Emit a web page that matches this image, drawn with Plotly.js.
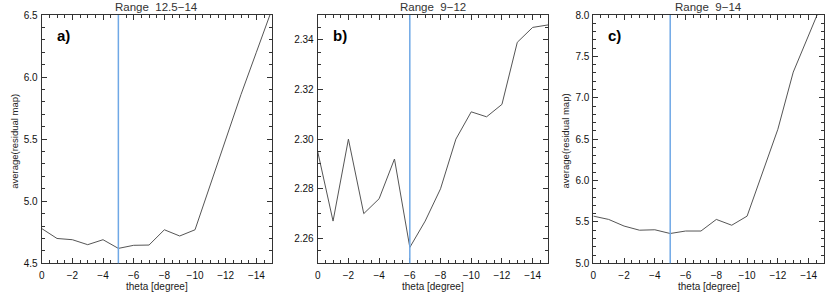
<!DOCTYPE html>
<html><head><meta charset="utf-8">
<script src="https://cdn.plot.ly/plotly-3.0.1.min.js"></script>
<style>html,body{margin:0;padding:0;background:#fff}#chart{width:830px;height:293px}</style>
</head><body><div id="chart"></div>
<script>
// ---- data ----
const theta = [0,-1,-2,-3,-4,-5,-6,-7,-8,-9,-10,-11,-12,-13,-14,-15];
const seriesA = [4.78,4.70,4.69,4.65,4.69,4.62,4.645,4.647,4.77,4.72,4.77,5.13,5.49,5.86,6.20,6.54];
const seriesB = [2.295,2.267,2.300,2.270,2.276,2.292,2.2564,2.267,2.280,2.300,2.311,2.309,2.314,2.339,2.345,2.346];
const seriesC = [5.57,5.53,5.45,5.40,5.405,5.36,5.39,5.39,5.53,5.46,5.57,6.10,6.62,7.31,7.76,8.20];
const panelTitles = ['Range  12.5\u221214','Range  9\u221212','Range  9\u221214'];
const panelLetters = ['a)','b)','c)'];
const markerTheta = [-5,-6,-5];
const yRanges = [[4.5,6.5],[2.25,2.35],[5.0,8.0]];
const yTick0 = [4.5,2.26,5.0];
const yDticks = [0.5,0.02,0.5];
const yMinorDticks = [0.1,0.005,0.1];
const yFormats = ['.1f','.2f','.1f'];
const yTitles = ['average(residual map)','','average(residual map)'];
const xTitle = 'theta [degree]';

// ---- layout geometry (px) ----
const W = 830, H = 293;
const lefts = [41.7, 317.7, 593.3], rights = [271.7, 548, 824];
const plotTop = 15, plotBottom = 263.3;
const fx = p => p / W, fy = p => 1 - p / H;

const series = [seriesA, seriesB, seriesC];
const axColor = '#333';
const fontFam = 'Liberation Sans, Arial, sans-serif';

const traces = [], shapes = [], annotations = [];
const layout = {
  width: W, height: H, margin: {l:0,r:0,t:0,b:0},
  paper_bgcolor: '#fff', plot_bgcolor: '#fff', showlegend: false,
  font: {family: fontFam, size: 10, color: '#111'}
};

for (let i = 0; i < 3; i++) {
  const s = i === 0 ? '' : String(i + 1);
  const xa = 'xaxis' + s, ya = 'yaxis' + s;
  layout[xa] = {
    domain: [fx(lefts[i]), fx(rights[i])], anchor: 'y' + s,
    range: [0, -15], tick0: 0, dtick: 2, tickmode: 'linear',
    showline: true, mirror: 'allticks', linecolor: axColor, linewidth: 1,
    ticks: 'inside', ticklen: 5, tickcolor: axColor, tickwidth: 1,
    minor: {dtick: 0.5, tick0: 0, ticks: 'inside', ticklen: 3, tickcolor: axColor, tickwidth: 1, showgrid: false},
    showgrid: false, zeroline: false, fixedrange: true, ticklabelstandoff: 3,
    tickfont: {size: 10, color: '#111', family: fontFam}
  };
  layout[ya] = {
    domain: [fy(plotBottom), fy(plotTop)], anchor: 'x' + s,
    range: yRanges[i], tick0: yTick0[i], dtick: yDticks[i], tickmode: 'linear',
    tickformat: yFormats[i],
    showline: true, mirror: 'allticks', linecolor: axColor, linewidth: 1,
    ticks: 'inside', ticklen: 5, tickcolor: axColor, tickwidth: 1,
    minor: {dtick: yMinorDticks[i], tick0: yRanges[i][0], ticks: 'inside', ticklen: 3, tickcolor: axColor, tickwidth: 1, showgrid: false},
    showgrid: false, zeroline: false, fixedrange: true, ticklabelstandoff: 1,
    tickfont: {size: 10, color: '#111', family: fontFam}
  };
  traces.push({
    x: theta, y: series[i], xaxis: 'x' + s, yaxis: 'y' + s,
    type: 'scatter', mode: 'lines', line: {color: '#555', width: 1}, hoverinfo: 'skip'
  });
  shapes.push({
    type: 'line', xref: 'x' + s, yref: 'y' + s + ' domain',
    x0: markerTheta[i], x1: markerTheta[i], y0: 0, y1: 1,
    line: {color: '#6fa8e6', width: 1.5}
  });
  const cx = (lefts[i] + rights[i]) / 2;
  annotations.push({
    text: panelTitles[i], xref: 'paper', yref: 'paper',
    x: fx(cx), y: fy(7), xanchor: 'center', yanchor: 'middle', showarrow: false,
    font: {size: 11.5, color: '#333', family: fontFam}
  });
  annotations.push({
    text: '<b>' + panelLetters[i] + '</b>', xref: 'paper', yref: 'paper',
    x: fx(lefts[i] + 13), y: fy(35), xanchor: 'left', yanchor: 'middle', showarrow: false,
    font: {size: 15, color: '#000', family: fontFam}
  });
  annotations.push({
    text: xTitle, xref: 'paper', yref: 'paper',
    x: fx(cx), y: fy(286), xanchor: 'center', yanchor: 'middle', showarrow: false,
    font: {size: 10, color: '#222', family: fontFam}
  });
  if (yTitles[i]) {
    annotations.push({
      text: yTitles[i], xref: 'paper', yref: 'paper', textangle: -90,
      x: fx(lefts[i] - 28), y: fy((plotTop + plotBottom) / 2 + 2), xanchor: 'center', yanchor: 'middle', showarrow: false,
      font: {size: 9.5, color: '#222', family: fontFam}
    });
  }
}
layout.shapes = shapes;
layout.annotations = annotations;
Plotly.newPlot('chart', traces, layout, {staticPlot: true, displayModeBar: false});
</script>
</body></html>
